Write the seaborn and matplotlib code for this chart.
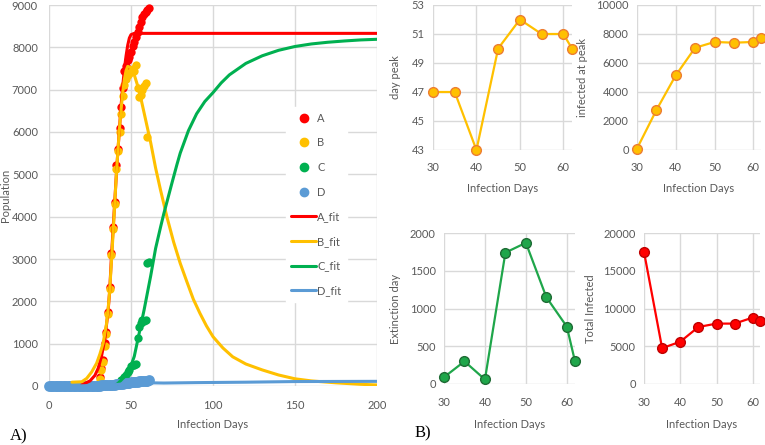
import matplotlib
matplotlib.use("Agg")
import matplotlib.pyplot as plt
from matplotlib.lines import Line2D
import seaborn as sns

# ---------------- data: panel A ----------------
A_days = [31, 32, 33, 34, 35, 36, 37, 38, 39, 40, 41, 42, 43, 44, 45, 46,
          47, 48, 49, 50, 51, 52, 53, 54, 55, 56, 57, 58, 59, 60, 61]
A_vals = [220, 420, 615, 1010, 1285, 1755, 2345, 3150, 3760, 4350, 5220, 5610, 6090, 6600, 7030, 7430,
          7550, 7700, 7780, 7900, 8020, 8130, 8250, 8370, 8490, 8600, 8725, 8790, 8840, 8880, 8920]

B_days = [31, 32, 33, 34, 35, 36, 37, 38, 39, 40, 41, 42, 43, 44, 45, 46,
          47, 48, 49, 50, 51, 52, 53, 54, 55, 56, 57, 58, 59, 60]
B_vals = [170, 370, 570, 950, 1230, 1700, 2290, 3090, 3700, 4290, 5130, 5550, 6000, 6420, 6860, 7120,
          7250, 7350, 7400, 7420, 7480, 7450, 7580, 7030, 6830, 6870, 6990, 7080, 7150, 5890]

C_days = [44, 45, 46, 47, 48, 49, 50, 51, 52, 53, 54, 55, 56, 57, 58, 59, 60, 61]
C_vals = [150, 170, 220, 260, 330, 380, 480, 500, 500, 520, 1130, 1400, 1500, 1560, 1540, 1550, 2900, 2920]

D_days = list(range(0, 62))
D_vals = [0, 0, 0, 0, 0, 0, 0, 0, 0, 0, 0, 0, 0, 0, 0, 0, 0, 0, 0, 0,
          1, 1, 2, 2, 3, 3, 4, 5, 6, 7,
          8, 10, 12, 14, 16, 18, 20, 23, 26, 30,
          34, 38, 42, 47, 52, 57, 62, 67, 72, 78,
          84, 90, 95, 100, 105, 108, 112, 115, 118, 122, 128, 132]

Afit_days = [20, 25, 28, 30, 32, 34, 36, 37, 38, 39, 40, 41, 42, 43, 44, 45, 46, 47, 48, 49, 50, 52, 60, 100, 150, 200]
Afit_vals = [30, 120, 250, 420, 700, 1100, 1750, 2250, 3000, 3650, 4300, 4950, 5550, 6100, 6650, 7100, 7500, 7800,
             8050, 8220, 8300, 8330, 8330, 8330, 8330, 8330]

Bfit_days = [14, 20, 23, 26, 29, 31, 33, 35, 36, 37, 38, 39, 40, 41, 42, 43, 44, 45, 46, 47, 48, 50, 52, 54,
             56, 58, 60, 62, 65, 68, 72, 76, 80, 84, 88, 92, 96, 100, 106, 112, 120, 130, 140, 150, 160, 175, 190, 200]
Bfit_vals = [90, 100, 180, 330, 535, 750, 1010, 1450, 1795, 2250, 2900, 3550, 4250, 4950, 5550, 6100, 6550,
             6950, 7250, 7450, 7550, 7520, 7350, 7100, 6800, 6450, 6100, 5750, 5150, 4630, 3980, 3400, 2900,
             2470, 2050, 1720, 1420, 1165, 900, 690, 520, 380, 260, 170, 120, 75, 40, 25]

Cfit_days = [40, 42, 45, 47, 50, 52, 55, 58, 60, 62, 65, 68, 70, 72, 75, 78, 80, 85, 90, 95, 100, 105, 110,
             120, 130, 140, 150, 160, 170, 180, 190, 200]
Cfit_vals = [0, 60, 180, 250, 480, 700, 1250, 1800, 2200, 2600, 3250, 3750, 4070, 4360, 4800, 5230, 5500,
             6030, 6430, 6720, 6930, 7160, 7350, 7620, 7800, 7930, 8020, 8080, 8120, 8150, 8175, 8190]

Dfit_days = [0, 20, 40, 50, 55, 60, 62, 70, 90, 120, 150, 200]
Dfit_vals = [0, 5, 30, 70, 90, 100, 75, 70, 80, 90, 105, 110]

# ---------------- data: panel B ----------------
inf_days = [30, 35, 40, 45, 50, 55, 60, 62]
day_peak = [47, 47, 43, 50, 52, 51, 51, 50]
infected_at_peak = [100, 2750, 5150, 7050, 7450, 7400, 7450, 7750]
extinction_day = [90, 300, 60, 1740, 1870, 1150, 760, 300]
total_infected = [17500, 4750, 5600, 7550, 8000, 8000, 8800, 8350]

# ---------------- styling ----------------
sns.set_theme(style="white")
plt.rcParams['font.family'] = ['Lato', 'DejaVu Sans']
GRAY = "#595959"
GRID = "#d9d9d9"
RED = "#FF0000"
YEL = "#FFC000"
GRN = "#00B050"
BLU = "#5B9BD5"
FS = 8

fig = plt.figure(figsize=(7.65, 4.45), dpi=100)


def style_axes(ax, xpad=8, ypad=6):
    for s in ax.spines.values():
        s.set_visible(False)
    ax.grid(True, color=GRID, linewidth=1.0)
    ax.set_axisbelow(True)
    ax.tick_params(axis='both', length=0, labelsize=FS, colors=GRAY)
    ax.tick_params(axis='x', pad=xpad)
    ax.tick_params(axis='y', pad=ypad)


# Panel A
axA = fig.add_axes([49 / 765, 1 - 386 / 445, 328 / 765, 381 / 445])
style_axes(axA, xpad=10, ypad=8)
ms = 36
sns.scatterplot(x=A_days, y=A_vals, ax=axA, color=RED, s=ms, linewidth=0, zorder=3)
sns.scatterplot(x=B_days, y=B_vals, ax=axA, color=YEL, s=ms, linewidth=0, zorder=3)
sns.scatterplot(x=C_days, y=C_vals, ax=axA, color=GRN, s=ms, linewidth=0, zorder=3)
sns.scatterplot(x=D_days, y=D_vals, ax=axA, color=BLU, s=ms + 24, linewidth=0, zorder=3)
for coll in axA.collections:
    coll.set_clip_on(False)
lw = 2.2
sns.lineplot(x=Afit_days, y=Afit_vals, ax=axA, color=RED, linewidth=lw, sort=False, zorder=4)
sns.lineplot(x=Bfit_days, y=Bfit_vals, ax=axA, color=YEL, linewidth=lw, sort=False, zorder=4)
sns.lineplot(x=Cfit_days, y=Cfit_vals, ax=axA, color=GRN, linewidth=lw, sort=False, zorder=4)
sns.lineplot(x=Dfit_days, y=Dfit_vals, ax=axA, color=BLU, linewidth=lw, sort=False, zorder=4)
axA.set_xlim(0, 200)
axA.set_ylim(0, 9000)
axA.set_xticks([0, 50, 100, 150, 200])
axA.set_yticks(range(0, 9001, 1000))
axA.set_xlabel("Infection Days", fontsize=FS, color=GRAY, labelpad=6)
axA.set_ylabel("Population", fontsize=FS, color=GRAY)
axA.yaxis.set_label_coords((11 - 49) / 328, 0.5)

handles = [
    Line2D([], [], linestyle='none', marker='o', markersize=6, color=RED),
    Line2D([], [], linestyle='none', marker='o', markersize=6, color=YEL),
    Line2D([], [], linestyle='none', marker='o', markersize=6, color=GRN),
    Line2D([], [], linestyle='none', marker='o', markersize=6, color=BLU),
    Line2D([], [], color=RED, linewidth=lw),
    Line2D([], [], color=YEL, linewidth=lw),
    Line2D([], [], color=GRN, linewidth=lw),
    Line2D([], [], color=BLU, linewidth=lw),
]
labels = ["A", "B", "C", "D", "A_fit", "B_fit", "C_fit", "D_fit"]
leg = axA.legend(handles, labels, loc='upper left', bbox_to_anchor=(0.705, 0.747),
                 frameon=True, fontsize=FS, labelspacing=1.23, handlelength=2.2,
                 handletextpad=0.12, borderpad=0.5, fancybox=False)
leg.get_frame().set_edgecolor('white')
leg.get_frame().set_facecolor('white')
leg.get_frame().set_alpha(1.0)
for t in leg.get_texts():
    t.set_color(GRAY)


def small_panel(rect, y, color, edge, ylim, yticks, ylabel, xlabelpad, ylab_x):
    ax = fig.add_axes(rect)
    style_axes(ax, xpad=9, ypad=6)
    sns.lineplot(x=inf_days, y=y, ax=ax, color=color, linewidth=1.6, marker='o', markersize=7,
                 markerfacecolor=color, markeredgecolor=edge, markeredgewidth=1.0)
    ax.set_xlim(30, 62)
    ax.set_xticks([30, 40, 50, 60])
    ax.set_ylim(*ylim)
    ax.set_yticks(yticks)
    for mk in ax.lines:
        mk.set_clip_on(False)
    ax.set_xlabel("Infection Days", fontsize=FS, color=GRAY, labelpad=xlabelpad)
    ax.set_ylabel(ylabel, fontsize=FS, color=GRAY)
    ax.yaxis.set_label_coords(ylab_x, 0.5)
    return ax


small_panel([433 / 765, 1 - 150 / 445, 139 / 765, 145 / 445], day_peak, YEL, "#ED7D31",
            (43, 53), [43, 45, 47, 49, 51, 53], "day peak", 7, (401 - 433) / 139)
small_panel([637 / 765, 1 - 150 / 445, 124 / 765, 145 / 445], infected_at_peak, YEL, "#ED7D31",
            (0, 10000), [0, 2000, 4000, 6000, 8000, 10000], "infected at peak", 7, (588 - 637) / 124)
small_panel([444 / 765, 1 - 384 / 445, 131 / 765, 151 / 445], extinction_day, "#1FA64A", "#1E6B34",
            (0, 2000), [0, 500, 1000, 1500, 2000], "Extinction day", 8, (401 - 444) / 131)
small_panel([644 / 765, 1 - 384 / 445, 116 / 765, 151 / 445], total_infected, RED, "#C00000",
            (0, 20000), [0, 5000, 10000, 15000, 20000], "Total Infected", 8, (596 - 644) / 116)

fig.text(10 / 765, 1 - 436 / 445, "A)", fontsize=12, family='Liberation Serif', color='black', va='center')
fig.text(415 / 765, 1 - 433 / 445, "B)", fontsize=12, family='Liberation Serif', color='black', va='center')

fig.savefig("out.png", dpi=100)
